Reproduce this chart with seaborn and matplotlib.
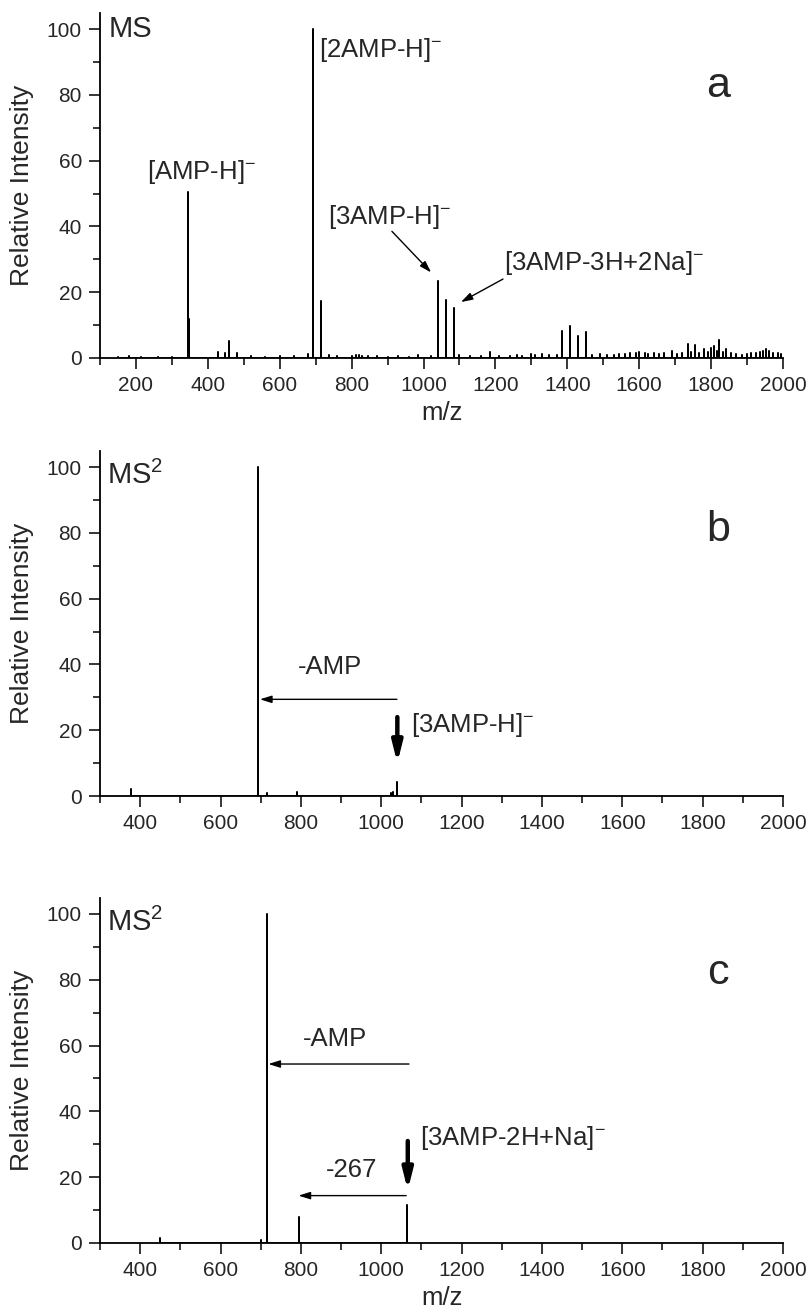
import pandas as pd
import seaborn as sns
import matplotlib.pyplot as plt
from matplotlib.ticker import MultipleLocator

sns.set_style('ticks')
plt.rcParams['font.family'] = ['Liberation Sans', 'DejaVu Sans']
plt.rcParams['mathtext.fontset'] = 'custom'
plt.rcParams['mathtext.rm'] = 'Liberation Sans'
plt.rcParams['mathtext.it'] = 'Liberation Sans:italic'
plt.rcParams['mathtext.default'] = 'regular'

# panel a: full MS spectrum (m/z, relative intensity)
MZ_A = [150, 180, 215, 260, 300, 346, 347, 428, 447, 458, 481, 520, 560, 600,
        640, 678, 692, 693, 715, 736, 760, 800, 812, 820, 828, 845, 870, 900,
        930, 960, 985, 1020, 1040, 1062, 1084, 1100, 1130, 1160, 1185, 1210,
        1240, 1260, 1275, 1300, 1310, 1330, 1350, 1370, 1385, 1408, 1430, 1452,
        1470, 1490, 1510, 1530, 1545, 1560, 1575, 1590, 1600, 1615, 1625, 1640,
        1655, 1670, 1690, 1705, 1720, 1736, 1745, 1756, 1765, 1780, 1790, 1801,
        1808, 1815, 1822, 1832, 1841, 1855, 1870, 1885, 1900, 1912, 1925, 1935,
        1945, 1954, 1962, 1972, 1985, 1995]
INT_A = [0.4, 0.6, 0.3, 0.3, 0.4, 50.5, 12, 1.8, 1.5, 5.2, 1.5, 0.5, 0.4, 0.5,
         0.5, 1.2, 100, 24, 17.2, 0.8, 0.5, 0.7, 0.8, 0.9, 0.7, 0.5, 0.5, 0.4,
         0.5, 0.4, 0.8, 0.6, 23.4, 17.5, 15.2, 0.8, 0.5, 0.6, 1.7, 0.5,
         0.6, 0.8, 0.7, 1.1, 1.0, 1.2, 0.8, 0.9, 8.3, 9.7, 6.7, 8.0,
         1.0, 1.2, 0.8, 1.0, 1.3, 1.2, 1.6, 1.4, 1.8, 1.5, 1.3, 1.5,
         1.2, 1.4, 2.2, 1.3, 1.5, 4.3, 1.8, 3.8, 1.6, 2.6, 1.9, 3.1,
         3.5, 2.0, 5.4, 1.7, 2.6, 1.4, 1.2, 1.0, 1.3, 1.5, 1.6, 1.8,
         2.0, 2.8, 2.2, 1.6, 1.5, 1.2]

# panel b: MS2 of [3AMP-H]-
MZ_B = [378, 693, 694, 715, 791, 1023, 1030, 1040]
INT_B = [2.0, 100, 76, 1.0, 1.3, 1.0, 1.2, 4.4]

# panel c: MS2 of [3AMP-2H+Na]-
MZ_C = [450, 700, 715, 716, 795, 1064]
INT_C = [1.5, 1.0, 100, 74, 7.9, 11.5]

THIN = dict(arrowstyle='-|>,head_length=0.7,head_width=0.22', color='black',
            lw=1.0, shrinkA=0, shrinkB=0, mutation_scale=10)
THICK = dict(arrowstyle='-|>,head_length=1.2,head_width=0.3', color='black',
             lw=3.2, shrinkA=0, shrinkB=0, mutation_scale=10)
ANN = 18.5


def stick_frame(mz, inten):
    rows = []
    for m, h in zip(mz, inten):
        rows += [(m, 0.0), (m, h), (m, 0.0)]
    return pd.DataFrame(rows, columns=['m/z', 'Relative Intensity'])


def draw_panel(ax, mz, inten, xmin, xlabel):
    df = stick_frame(mz, inten)
    sns.lineplot(data=df, x='m/z', y='Relative Intensity', sort=False,
                 estimator=None, color='black', lw=1.1, ax=ax)
    ax.set_xlim(xmin, 2000)
    ax.set_ylim(0, 105)
    ax.xaxis.set_major_locator(MultipleLocator(200))
    ax.xaxis.set_minor_locator(MultipleLocator(100))
    ax.yaxis.set_major_locator(MultipleLocator(20))
    ax.yaxis.set_minor_locator(MultipleLocator(10))
    ax.tick_params(which='major', length=8, width=1.1, labelsize=15,
                   direction='out', pad=5, color='black')
    ax.tick_params(which='minor', length=5, width=1.1, direction='out',
                   color='black')
    for s in ['top', 'right']:
        ax.spines[s].set_visible(False)
    for s in ['left', 'bottom']:
        ax.spines[s].set_linewidth(1.3)
        ax.spines[s].set_color('black')
    ax.set_xlabel(xlabel, fontsize=18.5, labelpad=4)
    ax.set_ylabel('Relative Intensity', fontsize=19, labelpad=9)


fig = plt.figure(figsize=(8.12, 13.08), dpi=100)
ax_a = fig.add_axes([0.1232, 0.7263, 0.8411, 0.2641])
ax_b = fig.add_axes([0.1232, 0.3914, 0.8411, 0.2641])
ax_c = fig.add_axes([0.1232, 0.0497, 0.8411, 0.2641])

draw_panel(ax_a, MZ_A, INT_A, 100, 'm/z')
draw_panel(ax_b, MZ_B, INT_B, 300, '')
draw_panel(ax_c, MZ_C, INT_C, 300, 'm/z')

# panel a labels
ax_a.text(125, 100, 'MS', fontsize=21, va='center', ha='left')
ax_a.text(1820, 82.8, 'a', fontsize=31, va='center', ha='center')
ax_a.text(232, 56.5, '[AMP-H]$^{-}$', fontsize=ANN, va='center', ha='left')
ax_a.text(710, 93.6, '[2AMP-H]$^{-}$', fontsize=ANN, va='center', ha='left')
ax_a.text(733, 43, '[3AMP-H]$^{-}$', fontsize=ANN, va='center', ha='left')
ax_a.annotate('', xy=(1021, 26), xytext=(912, 38.5), arrowprops=THIN)
ax_a.text(1225, 29, '[3AMP-3H+2Na]$^{-}$', fontsize=ANN, va='center', ha='left')
ax_a.annotate('', xy=(1104, 17), xytext=(1221, 24), arrowprops=THIN)

# panel b labels
ax_b.text(317, 97.5, 'MS$^{2}$', fontsize=21, va='center', ha='left')
ax_b.text(1839, 81, 'b', fontsize=31, va='center', ha='center')
ax_b.text(873, 39.3, '-AMP', fontsize=ANN, va='center', ha='center')
ax_b.annotate('', xy=(698, 29.4), xytext=(1039, 29.4), arrowprops=THIN)
ax_b.annotate('', xy=(1040, 10), xytext=(1040, 24), arrowprops=THICK)
ax_b.text(1075, 21.6, '[3AMP-H]$^{-}$', fontsize=ANN, va='center', ha='left')

# panel c labels
ax_c.text(317, 97.5, 'MS$^{2}$', fontsize=21, va='center', ha='left')
ax_c.text(1839, 82, 'c', fontsize=31, va='center', ha='center')
ax_c.text(886, 62, '-AMP', fontsize=ANN, va='center', ha='center')
ax_c.annotate('', xy=(719, 54.4), xytext=(1069, 54.4), arrowprops=THIN)
ax_c.text(925, 22.2, '-267', fontsize=ANN, va='center', ha='center')
ax_c.annotate('', xy=(794, 14.4), xytext=(1062, 14.4), arrowprops=THIN)
ax_c.annotate('', xy=(1066, 16), xytext=(1066, 31), arrowprops=THICK)
ax_c.text(1097, 32, '[3AMP-2H+Na]$^{-}$', fontsize=ANN, va='center', ha='left')

fig.savefig('out.png', dpi=100)
plt.close(fig)
